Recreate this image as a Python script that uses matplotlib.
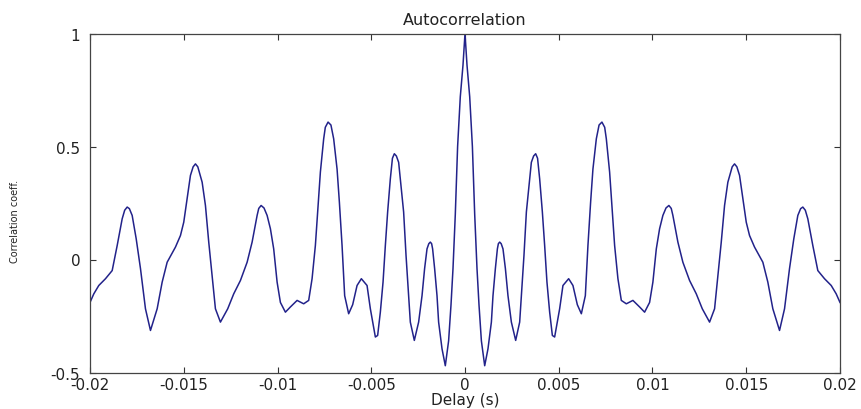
import numpy as np
import matplotlib
matplotlib.use("Agg")
import matplotlib.pyplot as plt
from matplotlib import font_manager

# positive-lag half of the autocorrelation (delay in ms)
delay_ms = [
    0.000, 0.107, 0.251, 0.394, 0.517, 0.640, 0.746, 0.874, 1.050,
    1.226, 1.407, 1.493, 1.620, 1.727, 1.780, 1.850, 1.930, 2.026, 2.154, 2.292,
    2.473, 2.703, 2.916, 3.006, 3.145, 3.273, 3.412, 3.539, 3.660, 3.769, 3.870,
    3.982, 4.126, 4.248, 4.371, 4.515, 4.659, 4.781, 5.048, 5.224, 5.528, 5.757,
    5.991, 6.205, 6.418, 6.557, 6.700, 6.823, 7.004, 7.150, 7.303, 7.450, 7.537,
    7.713, 7.836, 7.980, 8.156, 8.337, 8.604, 8.955, 9.312, 9.579, 9.845, 10.021,
    10.203, 10.378, 10.554, 10.720, 10.874, 11.000, 11.087, 11.354, 11.620, 11.978,
    12.335, 12.655, 13.044, 13.311, 13.486, 13.667, 13.843, 14.019, 14.250, 14.376,
    14.500, 14.643, 14.819, 15.000, 15.176, 15.442, 15.885, 16.151, 16.418, 16.775,
    17.042, 17.308, 17.537, 17.751, 17.900, 18.017, 18.150, 18.284, 18.550, 18.817,
    19.174, 19.531, 19.797, 20.000,
]
corr = [
    1.00, 0.86, 0.72, 0.50, 0.20, -0.04, -0.20, -0.36, -0.47,
    -0.395, -0.277, -0.16, -0.04, 0.047, 0.070, 0.077, 0.070, 0.047, -0.04, -0.16,
    -0.277, -0.358, -0.277, -0.16, 0.018, 0.21, 0.327, 0.43, 0.458, 0.468, 0.448,
    0.357, 0.21, 0.062, -0.10, -0.233, -0.336, -0.343, -0.218, -0.115, -0.085, -0.115,
    -0.20, -0.24, -0.16, 0.062, 0.254, 0.40, 0.534, 0.595, 0.608, 0.585, 0.534,
    0.387, 0.239, 0.062, -0.085, -0.181, -0.196, -0.181, -0.21, -0.233, -0.19, -0.10,
    0.047, 0.136, 0.195, 0.228, 0.239, 0.226, 0.195, 0.077, -0.012, -0.093,
    -0.152, -0.218, -0.277, -0.218, -0.071, 0.077, 0.239, 0.342, 0.410, 0.423,
    0.410, 0.372, 0.269, 0.165, 0.106, 0.055, -0.012, -0.10, -0.218, -0.314,
    -0.218, -0.04, 0.092, 0.195, 0.225, 0.232, 0.218, 0.18, 0.062, -0.049,
    -0.085, -0.115, -0.152, -0.19,
]

x_ticks = [-0.02, -0.015, -0.01, -0.005, 0, 0.005, 0.01, 0.015, 0.02]
x_ticklabels = ["-0.02", "-0.015", "-0.01", "-0.005", "0", "0.005", "0.01", "0.015", "0.02"]
y_ticks = [-0.5, 0, 0.5, 1]
y_ticklabels = ["-0.5", "0", "0.5", "1"]

# autocorrelation is symmetric: build the full lag axis from the half
half_t = np.array(delay_ms) / 1000.0
half_r = np.array(corr)
lag = np.concatenate([-half_t[::-1], half_t[1:]])
r = np.concatenate([half_r[::-1], half_r[1:]])

plt.rcParams["font.family"] = "DejaVu Sans"

# narrow face for the y label if one is installed
names = {f.name for f in font_manager.fontManager.ttflist}
if "Liberation Sans Narrow" in names:
    ylab_font, ylab_size = "Liberation Sans Narrow", 9
else:
    ylab_font, ylab_size = "DejaVu Sans", 7

fig = plt.figure(figsize=(8.62, 4.10), dpi=100)
ax = fig.add_axes([90 / 862, 1 - 373.5 / 410, 750 / 862, 339 / 410])

ax.plot(lag, r, color="#22228a", linewidth=1.1)

ax.set_xlim(-0.02, 0.02)
ax.set_ylim(-0.5, 1)
ax.set_xticks(x_ticks)
ax.set_xticklabels(x_ticklabels)
ax.set_yticks(y_ticks)
ax.set_yticklabels(y_ticklabels)
ax.tick_params(direction="in", length=4, width=0.8, colors="#333333",
               labelcolor="#222222", labelsize=11, top=True, right=True, pad=3)
ax.tick_params(axis="y", pad=7)
for s in ax.spines.values():
    s.set_color("#444444")
    s.set_linewidth(0.9)

ax.set_title("Autocorrelation", fontsize=11.5, color="#222222", pad=7)
ax.set_xlabel("Delay (s)", fontsize=11, color="#222222", labelpad=0)
fig.text(15 / 862, 1 - 221 / 410, "Correlation coeff.", rotation=90,
         ha="center", va="center", fontsize=ylab_size, family=ylab_font,
         color="#222222")

fig.savefig("out.png", dpi=100, facecolor="white")
